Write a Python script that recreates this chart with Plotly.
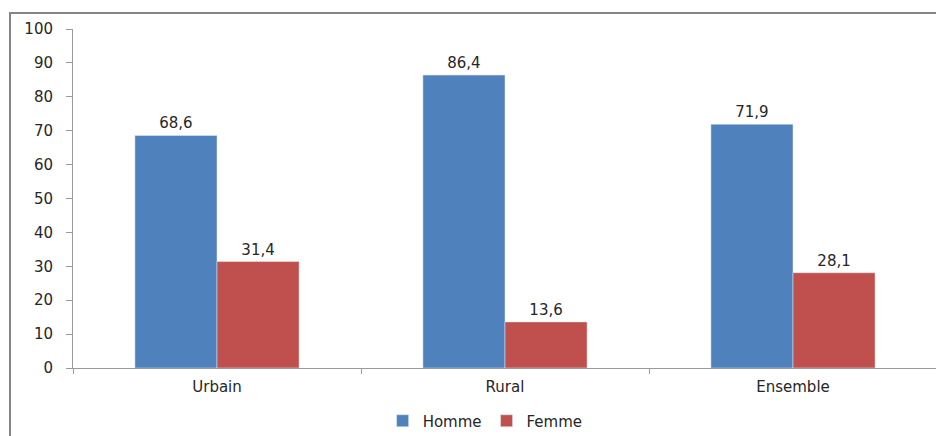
import plotly.graph_objects as go

categories = ["Urbain", "Rural", "Ensemble"]
homme = [68.6, 86.4, 71.9]
femme = [31.4, 13.6, 28.1]
y_ticks = [0, 10, 20, 30, 40, 50, 60, 70, 80, 90, 100]

def fr(v):
    return f"{v:.1f}".replace(".", ",")

font_family = "DejaVu Sans, Verdana, sans-serif"
TXT = "#262626"
fig = go.Figure()
fig.add_trace(go.Bar(name="Homme", x=categories, y=homme, marker_color="#4F81BD",
                     text=[fr(v) for v in homme], textposition="outside",
                     textfont=dict(size=15, color=TXT, family=font_family), cliponaxis=False))
fig.add_trace(go.Bar(name="Femme", x=categories, y=femme, marker_color="#C0504D",
                     text=[fr(v) for v in femme], textposition="outside",
                     textfont=dict(size=15, color=TXT, family=font_family), cliponaxis=False))

# page has an 8px body margin, so the figure is drawn at (8, 8)
OFF = 8
W, H = 944 - OFF, 436 - OFF
L, R, T, B = 73 - OFF, 7, 29 - OFF, 436 - 368
pw, ph = W - L - R, H - T - B

fig.update_layout(
    width=W, height=H, barmode="group", bargap=0.43, bargroupgap=0,
    margin=dict(l=L, r=R, t=T, b=B, autoexpand=False),
    plot_bgcolor="white", paper_bgcolor="white",
    font=dict(family=font_family, size=15, color=TXT),
    legend=dict(orientation="h", x=0.477, xanchor="center", y=-(421 - 368) / ph, yanchor="middle",
                font=dict(size=15), itemwidth=30, traceorder="normal"),
    shapes=[dict(type="rect", xref="paper", yref="paper",
                 x0=(10 - 73) / pw, x1=1 + 30 / pw,
                 y0=-(480 - 368) / ph, y1=1 + (29 - 13) / ph,
                 line=dict(color="#858585", width=2), fillcolor="rgba(0,0,0,0)", layer="below")],
)
fig.update_xaxes(showline=True, linecolor="#9a9a9a", linewidth=1, ticks="outside",
                 tickson="boundaries", ticklen=5, tickcolor="#9a9a9a", showgrid=False,
                 tickfont=dict(size=15), ticklabelstandoff=5, automargin=False)
fig.update_yaxes(range=[0, 100], tickvals=y_ticks, showline=True, linecolor="#9a9a9a",
                 linewidth=1, ticks="outside", ticklen=6, tickcolor="#9a9a9a", showgrid=False,
                 zeroline=False, tickfont=dict(size=15), ticklabelstandoff=10, automargin=False)
fig.write_html("out.html")
